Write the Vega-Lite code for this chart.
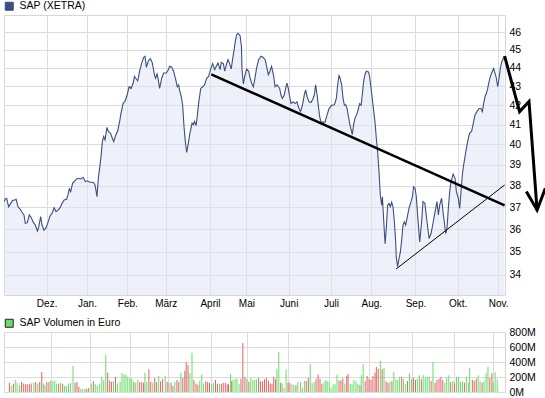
{
  "$schema": "https://vega.github.io/schema/vega-lite/v6.json",
  "background": "white",
  "padding": {"left": 3, "top": 0, "right": 0, "bottom": 0},
  "spacing": 8,
  "config": {
    "font": "Liberation Sans",
    "view": {"stroke": "#d6d6d6", "strokeWidth": 1},
    "axis": {"gridColor": "#dcdcdc", "gridWidth": 1, "gridOpacity": 1, "domain": false, "ticks": false, "tickSize": 0, "labelColor": "#000000", "labelFont": "Liberation Sans", "labelFontSize": 10.5, "title": null, "labelOverlap": false, "labelFlush": false},
    "legend": {"orient": "top", "title": null, "symbolType": "square", "symbolSize": 64, "labelFontSize": 10.5, "labelFont": "Liberation Sans", "labelColor": "#000000", "padding": 0, "offset": 2, "labelOffset": 5}
  },
  "datasets": {
    "price": [
      {"day":0,"price":37.25},{"day":0.5,"price":37.38},{"day":1.2,"price":37.41},{"day":2.2,"price":37.01},{"day":3.3,"price":37.17},{"day":4.3,"price":37.31},{"day":5.3,"price":37.33},{"day":6.1,"price":37.36},{"day":7.1,"price":37.01},{"day":8.2,"price":36.91},{"day":9.2,"price":36.75},{"day":10.2,"price":36.64},{"day":10.9,"price":36.25},{"day":12,"price":36.3},{"day":13,"price":36.64},{"day":14,"price":36.51},{"day":15.1,"price":36.3},{"day":16.1,"price":36.18},{"day":17.2,"price":35.91},{"day":17.8,"price":36.06},{"day":18.9,"price":36.56},{"day":19.6,"price":36.18},{"day":20.6,"price":35.95},{"day":21.7,"price":36.06},{"day":22.7,"price":36.3},{"day":23.8,"price":36.6},{"day":24.8,"price":36.71},{"day":25.9,"price":36.97},{"day":26.9,"price":36.79},{"day":27.9,"price":36.86},{"day":29,"price":36.97},{"day":30,"price":37.17},{"day":31.1,"price":37.33},{"day":32.4,"price":37.36},{"day":33.1,"price":37.56},{"day":33.8,"price":37.85},{"day":34.5,"price":37.72},{"day":35.5,"price":38.11},{"day":36.6,"price":38.23},{"day":37.6,"price":38.32},{"day":38.7,"price":38.35},{"day":39.7,"price":38.32},{"day":41.1,"price":38.39},{"day":42.1,"price":38.19},{"day":43.2,"price":38.23},{"day":44.6,"price":38.16},{"day":46.2,"price":38.16},{"day":47.2,"price":38.03},{"day":48.2,"price":37.48},{"day":48.9,"price":38.35},{"day":49.6,"price":38.84},{"day":50.3,"price":39.4},{"day":51,"price":40.14},{"day":51.7,"price":40.4},{"day":52.4,"price":40.23},{"day":53.4,"price":40.86},{"day":54.1,"price":40.65},{"day":55.2,"price":40.57},{"day":56.2,"price":40.31},{"day":56.9,"price":40.14},{"day":57.9,"price":40.45},{"day":59,"price":40.69},{"day":60,"price":41.17},{"day":60.7,"price":41.58},{"day":61.8,"price":42.09},{"day":62.8,"price":42.21},{"day":63.9,"price":42.54},{"day":64.9,"price":42.98},{"day":65.9,"price":42.89},{"day":67,"price":43.17},{"day":67.7,"price":43.54},{"day":68.3,"price":43.44},{"day":69.4,"price":43.3},{"day":70.4,"price":43.82},{"day":71.5,"price":44.28},{"day":72.5,"price":44.59},{"day":73.2,"price":44.65},{"day":73.9,"price":44.04},{"day":74.9,"price":44.37},{"day":76,"price":44.52},{"day":77,"price":44.28},{"day":78.1,"price":43.63},{"day":78.7,"price":43.44},{"day":79.5,"price":43.67},{"day":80.1,"price":43.36},{"day":80.8,"price":42.89},{"day":81.9,"price":43.44},{"day":82.9,"price":43.72},{"day":84.3,"price":43.72},{"day":85.4,"price":43.91},{"day":86,"price":44.09},{"day":87.1,"price":44.04},{"day":88.1,"price":43.82},{"day":89.1,"price":43.4},{"day":90,"price":42.98},{"day":90.7,"price":43.08},{"day":91.4,"price":42.71},{"day":92.1,"price":42.45},{"day":92.8,"price":42.0},{"day":93.5,"price":40.91},{"day":94.2,"price":40.14},{"day":94.9,"price":39.6},{"day":95.6,"price":39.97},{"day":96.6,"price":40.57},{"day":97.7,"price":41.08},{"day":98.4,"price":41.0},{"day":99,"price":41.17},{"day":99.8,"price":40.95},{"day":100.4,"price":41.42},{"day":101.1,"price":42.09},{"day":102.2,"price":42.89},{"day":103.2,"price":42.98},{"day":104.2,"price":43.08},{"day":105.3,"price":43.44},{"day":106.3,"price":43.54},{"day":107.4,"price":43.94},{"day":108.4,"price":44.24},{"day":109.5,"price":43.91},{"day":110.5,"price":44.13},{"day":111.2,"price":44.28},{"day":112.3,"price":43.91},{"day":112.9,"price":44.31},{"day":114,"price":44.24},{"day":114.7,"price":43.82},{"day":115.7,"price":44.24},{"day":116.4,"price":44.46},{"day":117.1,"price":44.28},{"day":118.1,"price":43.94},{"day":118.8,"price":44.49},{"day":119.6,"price":45.02},{"day":120.2,"price":45.48},{"day":120.9,"price":45.86},{"day":121.6,"price":45.94},{"day":122.7,"price":45.8},{"day":123.4,"price":45.21},{"day":123.7,"price":43.91},{"day":124.4,"price":43.13},{"day":125.1,"price":43.54},{"day":126.1,"price":43.94},{"day":127.2,"price":43.82},{"day":127.9,"price":43.44},{"day":128.9,"price":43.13},{"day":129.6,"price":42.98},{"day":130.3,"price":43.36},{"day":131.3,"price":44.0},{"day":132.4,"price":44.47},{"day":133.6,"price":44.65},{"day":134.6,"price":44.59},{"day":135.7,"price":44.47},{"day":136.7,"price":44.0},{"day":137.4,"price":43.63},{"day":138.1,"price":43.78},{"day":139.1,"price":44.09},{"day":140.2,"price":43.54},{"day":140.9,"price":42.98},{"day":141.9,"price":43.08},{"day":142.6,"price":42.98},{"day":143.3,"price":42.89},{"day":144,"price":42.54},{"day":144.7,"price":42.36},{"day":145.7,"price":42.54},{"day":146.4,"price":42.89},{"day":147.1,"price":43.17},{"day":147.8,"price":42.89},{"day":148.5,"price":42.45},{"day":149.2,"price":42.09},{"day":150.3,"price":42.18},{"day":151.3,"price":42.09},{"day":152.3,"price":42.18},{"day":153,"price":41.92},{"day":154.1,"price":41.67},{"day":154.7,"price":41.83},{"day":155.5,"price":42.18},{"day":156.1,"price":42.54},{"day":156.8,"price":42.81},{"day":157.6,"price":42.45},{"day":158.6,"price":42.18},{"day":159.6,"price":42.14},{"day":160.7,"price":42.36},{"day":161.4,"price":42.57},{"day":162,"price":43.08},{"day":162.8,"price":42.54},{"day":163.4,"price":42.0},{"day":164.1,"price":41.42},{"day":164.8,"price":41.13},{"day":165.9,"price":41.13},{"day":166.9,"price":41.13},{"day":168,"price":41.5},{"day":169,"price":41.83},{"day":170.4,"price":42.0},{"day":171.8,"price":42.03},{"day":172.8,"price":42.36},{"day":173.5,"price":43.08},{"day":174.2,"price":43.59},{"day":174.5,"price":43.54},{"day":175.6,"price":43.08},{"day":176.3,"price":42.36},{"day":177,"price":42.0},{"day":177.7,"price":42.03},{"day":178.4,"price":41.83},{"day":179.1,"price":41.42},{"day":179.7,"price":41.08},{"day":180.5,"price":40.74},{"day":181.1,"price":40.49},{"day":181.8,"price":41.0},{"day":182.5,"price":41.33},{"day":183.6,"price":41.58},{"day":184.3,"price":41.83},{"day":184.9,"price":42.09},{"day":185.7,"price":42.0},{"day":186.3,"price":42.54},{"day":187,"price":43.26},{"day":187.7,"price":43.63},{"day":188.4,"price":43.82},{"day":189.5,"price":43.78},{"day":190.1,"price":43.54},{"day":190.9,"price":42.89},{"day":191.9,"price":42.0},{"day":192.9,"price":41.17},{"day":193.6,"price":40.31},{"day":194.3,"price":39.65},{"day":195,"price":38.68},{"day":195.7,"price":37.56},{"day":196.4,"price":37.09},{"day":196.8,"price":37.48},{"day":197.1,"price":36.94},{"day":197.8,"price":35.88},{"day":198.2,"price":35.35},{"day":198.8,"price":36.03},{"day":199.5,"price":37.09},{"day":200.2,"price":37.17},{"day":200.9,"price":37.01},{"day":201.6,"price":37.22},{"day":202.3,"price":37.01},{"day":203,"price":36.33},{"day":203.7,"price":35.42},{"day":204,"price":34.76},{"day":204.7,"price":34.35},{"day":205.4,"price":34.69},{"day":206.1,"price":34.97},{"day":206.8,"price":35.5},{"day":207.5,"price":36.18},{"day":208.2,"price":36.33},{"day":208.9,"price":36.18},{"day":209.6,"price":36.48},{"day":210.6,"price":36.94},{"day":211.7,"price":37.25},{"day":212.4,"price":37.48},{"day":213,"price":37.95},{"day":213.8,"price":37.87},{"day":214.4,"price":37.5},{"day":215.1,"price":36.64},{"day":216.2,"price":35.42},{"day":217.2,"price":36.33},{"day":217.9,"price":37.25},{"day":218.9,"price":37.17},{"day":220,"price":36.33},{"day":221.1,"price":35.57},{"day":222.1,"price":35.8},{"day":223.1,"price":36.25},{"day":224.2,"price":36.79},{"day":225.2,"price":37.25},{"day":225.9,"price":36.64},{"day":226.6,"price":37.09},{"day":227.6,"price":37.41},{"day":228.3,"price":36.79},{"day":229,"price":36.33},{"day":229.7,"price":35.8},{"day":230.4,"price":36.03},{"day":231.1,"price":36.94},{"day":231.8,"price":37.72},{"day":232.5,"price":38.19},{"day":233.6,"price":38.55},{"day":234.6,"price":38.35},{"day":235.3,"price":37.72},{"day":236.3,"price":37.41},{"day":237,"price":36.94},{"day":237.7,"price":37.72},{"day":238.4,"price":38.52},{"day":239.1,"price":39.0},{"day":239.8,"price":39.4},{"day":240.5,"price":39.81},{"day":241.5,"price":40.31},{"day":242.2,"price":40.57},{"day":243.2,"price":40.65},{"day":244.3,"price":41.17},{"day":245,"price":41.5},{"day":246,"price":41.67},{"day":247.1,"price":41.83},{"day":248.1,"price":41.83},{"day":248.8,"price":41.67},{"day":249.5,"price":42.09},{"day":250.2,"price":42.45},{"day":250.9,"price":42.62},{"day":251.6,"price":42.89},{"day":252.3,"price":43.26},{"day":253,"price":43.54},{"day":254,"price":43.82},{"day":254.7,"price":43.97},{"day":255.4,"price":43.72},{"day":256.1,"price":43.44},{"day":256.8,"price":42.98},{"day":257.5,"price":43.44},{"day":258.2,"price":44.0},{"day":258.9,"price":44.33},{"day":259.7,"price":44.52},{"day":260.3,"price":44.65}
    ],
    "annot": [
      {"grp":"resistance","day":107.7,"price":43.65},{"grp":"resistance","day":260.4,"price":37.08},
      {"grp":"support","day":203.9,"price":34.25},{"grp":"support","day":260.4,"price":38.03},
      {"grp":"arrow","day":260.4,"price":44.65},{"grp":"arrow","day":268.2,"price":41.67},{"grp":"arrow","day":273.1,"price":42.2},{"grp":"arrow","day":277.3,"price":36.86},
      {"grp":"head","day":271.7,"price":37.72},{"grp":"head","day":277.3,"price":36.86},{"grp":"head","day":281.6,"price":37.87}
    ],
    "volume": [
      {"day":0,"vol":124,"dir":"down"},{"day":1.0,"vol":80,"dir":"up"},{"day":2.1,"vol":111,"dir":"down"},{"day":3.1,"vol":160,"dir":"up"},{"day":4.1,"vol":124,"dir":"up"},{"day":5.4,"vol":89,"dir":"up"},{"day":6.4,"vol":133,"dir":"down"},{"day":7.4,"vol":115,"dir":"down"},{"day":8.5,"vol":102,"dir":"down"},{"day":9.5,"vol":102,"dir":"down"},{"day":10.6,"vol":102,"dir":"down"},{"day":11.6,"vol":115,"dir":"down"},{"day":13.0,"vol":124,"dir":"up"},{"day":14.0,"vol":133,"dir":"down"},{"day":15.1,"vol":115,"dir":"up"},{"day":16.1,"vol":133,"dir":"down"},{"day":17.2,"vol":266,"dir":"down"},{"day":18.2,"vol":115,"dir":"up"},{"day":18.9,"vol":89,"dir":"up"},{"day":19.9,"vol":133,"dir":"down"},{"day":21.0,"vol":133,"dir":"down"},{"day":22.0,"vol":155,"dir":"up"},{"day":23.1,"vol":142,"dir":"up"},{"day":24.1,"vol":151,"dir":"up"},{"day":25.1,"vol":111,"dir":"up"},{"day":26.2,"vol":111,"dir":"down"},{"day":27.2,"vol":124,"dir":"up"},{"day":28.3,"vol":111,"dir":"down"},{"day":29.3,"vol":80,"dir":"up"},{"day":30.3,"vol":80,"dir":"up"},{"day":31.4,"vol":111,"dir":"up"},{"day":32.4,"vol":120,"dir":"up"},{"day":33.8,"vol":346,"dir":"up"},{"day":34.9,"vol":124,"dir":"down"},{"day":35.9,"vol":133,"dir":"down"},{"day":36.9,"vol":71,"dir":"down"},{"day":38.0,"vol":44,"dir":"up"},{"day":39.0,"vol":36,"dir":"up"},{"day":40.1,"vol":44,"dir":"up"},{"day":41.1,"vol":44,"dir":"down"},{"day":42.1,"vol":53,"dir":"down"},{"day":43.5,"vol":111,"dir":"up"},{"day":44.6,"vol":147,"dir":"down"},{"day":45.6,"vol":111,"dir":"up"},{"day":46.7,"vol":80,"dir":"up"},{"day":48.0,"vol":111,"dir":"up"},{"day":49.1,"vol":204,"dir":"up"},{"day":50.1,"vol":155,"dir":"up"},{"day":51.2,"vol":497,"dir":"up"},{"day":52.2,"vol":258,"dir":"down"},{"day":53.3,"vol":155,"dir":"down"},{"day":54.3,"vol":138,"dir":"down"},{"day":55.3,"vol":142,"dir":"up"},{"day":56.4,"vol":204,"dir":"down"},{"day":57.4,"vol":115,"dir":"up"},{"day":58.8,"vol":138,"dir":"up"},{"day":59.8,"vol":249,"dir":"up"},{"day":60.9,"vol":235,"dir":"up"},{"day":61.9,"vol":231,"dir":"up"},{"day":62.9,"vol":204,"dir":"up"},{"day":64.0,"vol":191,"dir":"up"},{"day":65.0,"vol":178,"dir":"up"},{"day":66.1,"vol":138,"dir":"down"},{"day":67.1,"vol":120,"dir":"up"},{"day":68.2,"vol":164,"dir":"up"},{"day":69.2,"vol":133,"dir":"down"},{"day":70.3,"vol":133,"dir":"down"},{"day":71.3,"vol":124,"dir":"down"},{"day":72.0,"vol":258,"dir":"up"},{"day":73.0,"vol":133,"dir":"up"},{"day":74.1,"vol":302,"dir":"down"},{"day":75.1,"vol":138,"dir":"down"},{"day":76.2,"vol":124,"dir":"up"},{"day":77.2,"vol":186,"dir":"down"},{"day":78.2,"vol":133,"dir":"down"},{"day":79.3,"vol":213,"dir":"up"},{"day":80.3,"vol":142,"dir":"down"},{"day":81.4,"vol":178,"dir":"down"},{"day":82.8,"vol":213,"dir":"up"},{"day":83.8,"vol":133,"dir":"down"},{"day":84.8,"vol":124,"dir":"up"},{"day":85.9,"vol":124,"dir":"down"},{"day":86.9,"vol":80,"dir":"down"},{"day":87.9,"vol":133,"dir":"up"},{"day":89.0,"vol":160,"dir":"down"},{"day":90.0,"vol":138,"dir":"down"},{"day":91.1,"vol":258,"dir":"up"},{"day":92.1,"vol":191,"dir":"down"},{"day":93.2,"vol":280,"dir":"down"},{"day":93.9,"vol":400,"dir":"down"},{"day":94.9,"vol":364,"dir":"down"},{"day":95.9,"vol":249,"dir":"up"},{"day":97.0,"vol":524,"dir":"up"},{"day":98.0,"vol":160,"dir":"down"},{"day":99.1,"vol":115,"dir":"down"},{"day":100.1,"vol":98,"dir":"down"},{"day":101.1,"vol":142,"dir":"up"},{"day":102.2,"vol":235,"dir":"up"},{"day":103.2,"vol":115,"dir":"up"},{"day":104.3,"vol":142,"dir":"down"},{"day":105.3,"vol":133,"dir":"down"},{"day":106.3,"vol":124,"dir":"down"},{"day":107.4,"vol":102,"dir":"up"},{"day":108.4,"vol":124,"dir":"up"},{"day":109.5,"vol":160,"dir":"down"},{"day":110.5,"vol":111,"dir":"down"},{"day":111.6,"vol":111,"dir":"up"},{"day":112.6,"vol":111,"dir":"down"},{"day":113.6,"vol":124,"dir":"down"},{"day":114.7,"vol":124,"dir":"down"},{"day":115.7,"vol":102,"dir":"down"},{"day":116.4,"vol":102,"dir":"down"},{"day":117.5,"vol":240,"dir":"up"},{"day":118.1,"vol":142,"dir":"down"},{"day":118.8,"vol":160,"dir":"up"},{"day":119.9,"vol":173,"dir":"up"},{"day":120.9,"vol":178,"dir":"up"},{"day":122.0,"vol":102,"dir":"up"},{"day":123.0,"vol":178,"dir":"down"},{"day":124.0,"vol":653,"dir":"down"},{"day":125.1,"vol":200,"dir":"down"},{"day":126.1,"vol":178,"dir":"up"},{"day":127.2,"vol":138,"dir":"down"},{"day":128.2,"vol":195,"dir":"up"},{"day":129.3,"vol":160,"dir":"up"},{"day":130.3,"vol":160,"dir":"up"},{"day":131.3,"vol":169,"dir":"up"},{"day":132.4,"vol":191,"dir":"down"},{"day":133.4,"vol":142,"dir":"down"},{"day":134.5,"vol":142,"dir":"down"},{"day":135.5,"vol":169,"dir":"down"},{"day":136.5,"vol":191,"dir":"down"},{"day":137.6,"vol":151,"dir":"down"},{"day":138.6,"vol":115,"dir":"down"},{"day":139.5,"vol":102,"dir":"down"},{"day":140.4,"vol":204,"dir":"down"},{"day":141.4,"vol":169,"dir":"down"},{"day":142.1,"vol":311,"dir":"up"},{"day":143.1,"vol":533,"dir":"up"},{"day":144.1,"vol":124,"dir":"down"},{"day":144.9,"vol":115,"dir":"up"},{"day":145.9,"vol":58,"dir":"up"},{"day":147.0,"vol":302,"dir":"up"},{"day":148.0,"vol":124,"dir":"down"},{"day":149.0,"vol":124,"dir":"down"},{"day":150.1,"vol":102,"dir":"up"},{"day":151.1,"vol":93,"dir":"up"},{"day":152.2,"vol":89,"dir":"down"},{"day":153.2,"vol":133,"dir":"up"},{"day":154.6,"vol":138,"dir":"up"},{"day":155.6,"vol":58,"dir":"up"},{"day":156.7,"vol":147,"dir":"up"},{"day":157.7,"vol":147,"dir":"down"},{"day":158.8,"vol":191,"dir":"down"},{"day":159.8,"vol":369,"dir":"up"},{"day":160.8,"vol":115,"dir":"up"},{"day":161.9,"vol":133,"dir":"up"},{"day":162.9,"vol":178,"dir":"down"},{"day":164.0,"vol":235,"dir":"down"},{"day":165.0,"vol":178,"dir":"down"},{"day":166.0,"vol":102,"dir":"down"},{"day":167.1,"vol":133,"dir":"up"},{"day":168.1,"vol":160,"dir":"up"},{"day":168.8,"vol":142,"dir":"up"},{"day":169.9,"vol":133,"dir":"up"},{"day":170.9,"vol":58,"dir":"up"},{"day":172.0,"vol":102,"dir":"up"},{"day":173.0,"vol":102,"dir":"up"},{"day":174.0,"vol":231,"dir":"up"},{"day":175.1,"vol":155,"dir":"down"},{"day":176.1,"vol":155,"dir":"down"},{"day":177.1,"vol":182,"dir":"down"},{"day":178.2,"vol":115,"dir":"up"},{"day":179.2,"vol":213,"dir":"down"},{"day":179.9,"vol":244,"dir":"down"},{"day":181.0,"vol":111,"dir":"up"},{"day":182.0,"vol":102,"dir":"up"},{"day":183.0,"vol":160,"dir":"up"},{"day":184.1,"vol":142,"dir":"up"},{"day":185.1,"vol":107,"dir":"up"},{"day":186.2,"vol":93,"dir":"down"},{"day":186.9,"vol":222,"dir":"up"},{"day":187.9,"vol":369,"dir":"up"},{"day":189.0,"vol":142,"dir":"down"},{"day":190.0,"vol":213,"dir":"down"},{"day":191.0,"vol":178,"dir":"down"},{"day":192.1,"vol":160,"dir":"down"},{"day":193.1,"vol":213,"dir":"down"},{"day":194.2,"vol":258,"dir":"down"},{"day":194.9,"vol":337,"dir":"down"},{"day":195.9,"vol":311,"dir":"down"},{"day":197.0,"vol":417,"dir":"up"},{"day":198.0,"vol":302,"dir":"down"},{"day":199.0,"vol":324,"dir":"up"},{"day":200.1,"vol":142,"dir":"down"},{"day":201.1,"vol":124,"dir":"down"},{"day":202.1,"vol":138,"dir":"up"},{"day":203.2,"vol":147,"dir":"down"},{"day":204.2,"vol":266,"dir":"up"},{"day":205.3,"vol":169,"dir":"up"},{"day":206.3,"vol":160,"dir":"up"},{"day":207.3,"vol":204,"dir":"up"},{"day":208.4,"vol":204,"dir":"down"},{"day":209.4,"vol":169,"dir":"up"},{"day":210.5,"vol":102,"dir":"up"},{"day":211.5,"vol":147,"dir":"down"},{"day":212.5,"vol":249,"dir":"up"},{"day":213.6,"vol":169,"dir":"up"},{"day":214.6,"vol":191,"dir":"down"},{"day":215.7,"vol":160,"dir":"down"},{"day":216.7,"vol":178,"dir":"up"},{"day":217.8,"vol":222,"dir":"up"},{"day":218.8,"vol":169,"dir":"down"},{"day":219.8,"vol":222,"dir":"up"},{"day":220.9,"vol":191,"dir":"up"},{"day":221.9,"vol":204,"dir":"up"},{"day":223.0,"vol":204,"dir":"up"},{"day":224.0,"vol":147,"dir":"down"},{"day":225.0,"vol":404,"dir":"up"},{"day":226.1,"vol":124,"dir":"down"},{"day":227.1,"vol":160,"dir":"down"},{"day":228.2,"vol":178,"dir":"down"},{"day":229.2,"vol":204,"dir":"down"},{"day":230.2,"vol":160,"dir":"down"},{"day":231.3,"vol":124,"dir":"up"},{"day":232.3,"vol":191,"dir":"up"},{"day":233.4,"vol":222,"dir":"up"},{"day":234.4,"vol":133,"dir":"down"},{"day":235.5,"vol":147,"dir":"up"},{"day":236.5,"vol":124,"dir":"down"},{"day":237.5,"vol":204,"dir":"up"},{"day":238.6,"vol":204,"dir":"up"},{"day":239.6,"vol":133,"dir":"up"},{"day":240.7,"vol":142,"dir":"up"},{"day":241.7,"vol":124,"dir":"down"},{"day":242.7,"vol":204,"dir":"up"},{"day":243.8,"vol":124,"dir":"up"},{"day":244.5,"vol":324,"dir":"up"},{"day":245.9,"vol":160,"dir":"down"},{"day":246.9,"vol":147,"dir":"down"},{"day":248.0,"vol":178,"dir":"down"},{"day":249.0,"vol":222,"dir":"up"},{"day":250.0,"vol":142,"dir":"up"},{"day":251.1,"vol":124,"dir":"down"},{"day":252.1,"vol":142,"dir":"up"},{"day":253.2,"vol":249,"dir":"up"},{"day":254.2,"vol":337,"dir":"up"},{"day":255.2,"vol":186,"dir":"down"},{"day":256.3,"vol":249,"dir":"down"},{"day":257.0,"vol":124,"dir":"up"},{"day":258.0,"vol":266,"dir":"up"},{"day":259.1,"vol":169,"dir":"up"},{"day":259.9,"vol":6,"dir":"up"}
    ]
  },
  "vconcat": [
    {
      "width": 501,
      "height": 280,
      "layer": [
        {
          "data": {"name": "price"},
          "mark": {"type": "area", "fill": "#dde3f3", "fillOpacity": 0.5, "clip": true},
          "encoding": {
            "x": {"field": "day", "type": "quantitative", "scale": {"domain": [-0.2, 260.6], "nice": false, "zero": false},
                  "axis": {"orient": "bottom", "values": [22, 43, 64, 84, 107, 126, 148, 170, 191, 214, 236, 257], "labelExpr": "['Dez.','Jan.','Feb.','März','April','Mai','Juni','Juli','Aug.','Sep.','Okt.','Nov.'][indexof([22,43,64,84,107,126,148,170,191,214,236,257], datum.value)]", "labelFontSize": 10, "labelPadding": 3, "grid": true}},
            "y": {"field": "price", "type": "quantitative", "scale": {"type": "log", "domain": [33.16, 47.0], "nice": false, "zero": false},
                  "axis": {"orient": "right", "values": [34, 35, 36, 37, 38, 39, 40, 41, 42, 43, 44, 45, 46], "labelPadding": 4, "grid": true}},
            "y2": {"datum": 33.16}
          }
        },
        {
          "data": {"name": "price"},
          "mark": {"type": "line", "strokeWidth": 1.1, "clip": true},
          "encoding": {
            "x": {"field": "day", "type": "quantitative"},
            "y": {"field": "price", "type": "quantitative"},
            "color": {"datum": "SAP (XETRA)", "scale": {"range": ["#3c4f7e"]},
                      "legend": {"encode": {"symbols": {"update": {"fill": {"value": "#3c4f7e"}, "stroke": {"value": "#222222"}, "strokeWidth": {"value": 1}}}}}}
          }
        },
        {
          "data": {"name": "annot"},
          "transform": [{"filter": "datum.grp == 'resistance'"}],
          "mark": {"type": "line", "color": "#000000", "strokeWidth": 2.5, "clip": false},
          "encoding": {"x": {"field": "day", "type": "quantitative"}, "y": {"field": "price", "type": "quantitative"}}
        },
        {
          "data": {"name": "annot"},
          "transform": [{"filter": "datum.grp == 'support'"}],
          "mark": {"type": "line", "color": "#000000", "strokeWidth": 1, "clip": false},
          "encoding": {"x": {"field": "day", "type": "quantitative"}, "y": {"field": "price", "type": "quantitative"}}
        },
        {
          "data": {"name": "annot"},
          "transform": [{"filter": "datum.grp == 'arrow' || datum.grp == 'head'"}],
          "mark": {"type": "line", "color": "#000000", "strokeWidth": 3, "clip": false, "strokeJoin": "miter"},
          "encoding": {"x": {"field": "day", "type": "quantitative"}, "y": {"field": "price", "type": "quantitative"}, "detail": {"field": "grp"}}
        }
      ]
    },
    {
      "width": 501,
      "height": 60,
      "data": {"name": "volume"},
      "mark": {"type": "bar", "size": 1},
      "encoding": {
        "x": {"field": "day", "type": "quantitative", "scale": {"domain": [-0.2, 260.6], "nice": false, "zero": false},
              "axis": {"values": [22, 43, 64, 84, 107, 126, 148, 170, 191, 214, 236, 257], "labels": false, "grid": true}},
        "y": {"field": "vol", "type": "quantitative", "scale": {"domain": [0, 800], "nice": false},
              "axis": {"orient": "right", "values": [0, 200, 400, 600, 800], "labelExpr": "datum.value + 'M'", "labelPadding": 4, "grid": true}},
        "color": {"field": "dir", "type": "nominal", "scale": {"domain": ["up", "down"], "range": ["#66dd66", "#dd6666"]},
                  "legend": {"values": ["up"], "labelExpr": "'SAP Volumen in Euro'",
                             "encode": {"symbols": {"update": {"fill": {"value": "#66dd66"}, "stroke": {"value": "#222222"}, "strokeWidth": {"value": 1}}}}}}
      }
    }
  ],
  "resolve": {"scale": {"color": "independent", "x": "independent", "y": "independent"}, "legend": {"color": "independent"}}
}
